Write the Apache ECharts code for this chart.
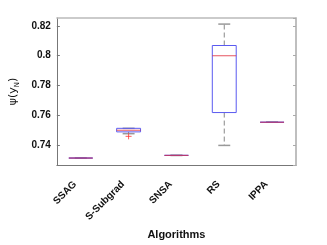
<!DOCTYPE html>
<html><head><meta charset="utf-8">
<script src="https://cdn.jsdelivr.net/npm/echarts@6/dist/echarts.min.js"></script>
<style>html,body{margin:0;padding:0;background:#fff}#c{width:327px;height:245px}</style>
</head><body><div id="c"></div>
<script>
const categories = ['SSAG', 'S-Subgrad', 'SNSA', 'RS', 'IPPA'];
const whiskerLow  = [0.7311, 0.7475, 0.7329, 0.7396, 0.7552];
const q1          = [0.7311, 0.7487, 0.7329, 0.7617, 0.7552];
const median      = [0.7311, 0.7498, 0.7329, 0.7999, 0.7552];
const q3          = [0.7311, 0.7511, 0.7329, 0.8068, 0.7552];
const whiskerHigh = [0.7311, 0.7511, 0.7329, 0.8212, 0.7552];
const outliers = [[1, 0.7457]];
const yTicks = [0.74, 0.76, 0.78, 0.8, 0.82];

const boxData = categories.map((c, i) => [i, whiskerLow[i], q1[i], median[i], q3[i], whiskerHigh[i]]);

function renderBox(params, api) {
  const i = api.value(0);
  const band = api.size([1, 0])[0];
  const bw = band * 0.5, cw = bw * 0.5;
  const x = api.coord([i, 0])[0];
  const yLo = api.coord([i, api.value(1)])[1];
  const yQ1 = api.coord([i, api.value(2)])[1];
  const yMd = api.coord([i, api.value(3)])[1];
  const yQ3 = api.coord([i, api.value(4)])[1];
  const yHi = api.coord([i, api.value(5)])[1];
  const ch = [];
  const dash = {stroke: '#888', lineWidth: 1, lineDash: [5, 3], fill: null};
  if (yHi < yQ3 - 0.5) ch.push({type: 'line', shape: {x1: x, y1: yQ3, x2: x, y2: yHi}, style: dash});
  if (yLo > yQ1 + 0.5) ch.push({type: 'line', shape: {x1: x, y1: yQ1, x2: x, y2: yLo}, style: dash});
  const cap = {stroke: '#999', lineWidth: 1.5};
  ch.push({type: 'line', shape: {x1: x - cw / 2, y1: yHi, x2: x + cw / 2, y2: yHi}, style: cap});
  ch.push({type: 'line', shape: {x1: x - cw / 2, y1: yLo, x2: x + cw / 2, y2: yLo}, style: cap});
  ch.push({type: 'rect', shape: {x: x - bw / 2, y: yQ3, width: bw, height: Math.max(yQ1 - yQ3, 0)},
    style: {stroke: '#5a5af0', lineWidth: 1, fill: 'rgba(0,0,0,0)'}});
  ch.push({type: 'line', shape: {x1: x - bw / 2, y1: yMd, x2: x + bw / 2, y2: yMd},
    style: {stroke: '#e02a3a', lineWidth: 1, opacity: 0.8}});
  return {type: 'group', children: ch};
}

const axisGray = '#777';
const chart = echarts.init(document.getElementById('c'), null, {renderer: 'canvas'});
chart.setOption({
  animation: false,
  grid: {left: 42, right: 31, top: 18, bottom: 60},
  xAxis: [{
    type: 'category', data: categories, position: 'bottom',
    axisLine: {lineStyle: {color: axisGray, width: 1}},
    axisTick: {inside: true, alignWithLabel: true, length: 3, lineStyle: {color: axisGray}},
    axisLabel: {rotate: 45, margin: 12, padding: [0, 8, 0, 0], color: '#111', fontSize: 10, fontWeight: 'bold', fontFamily: 'Liberation Sans, Arial'},
    name: 'Algorithms', nameLocation: 'middle', nameGap: 48,
    nameTextStyle: {color: '#111', fontSize: 11, fontWeight: 'bold', fontFamily: 'Liberation Sans, Arial'},
    splitLine: {show: false}
  }, {
    type: 'category', data: categories, position: 'top',
    axisLine: {lineStyle: {color: '#bbb', width: 1.5}},
    axisTick: {inside: true, alignWithLabel: true, length: 3, lineStyle: {color: '#aaa'}},
    axisLabel: {show: false}, splitLine: {show: false}
  }],
  yAxis: [{
    type: 'value', min: 0.7264, max: 0.8253, splitNumber: 5, position: 'left',
    axisLine: {show: true, lineStyle: {color: axisGray, width: 1}},
    axisTick: {show: true, inside: true, length: 3, lineStyle: {color: axisGray}},
    axisLabel: {showMinLabel: false, showMaxLabel: false, color: '#111', fontSize: 10, fontWeight: 'bold',
      fontFamily: 'Liberation Sans, Arial', margin: 6,
      formatter: v => yTicks.some(t => Math.abs(t - v) < 1e-6) ? String(+v.toFixed(2)) : ''},
    splitLine: {show: false},
    name: '{a|ψ(y}{b|N}{a|)}', nameLocation: 'middle', nameGap: 29, nameRotate: 90,
    nameTextStyle: {rich: {
      a: {fontSize: 11, color: '#111', fontFamily: 'DejaVu Sans, Liberation Sans', lineHeight: 14, verticalAlign: 'middle'},
      b: {fontSize: 7, color: '#111', fontFamily: 'DejaVu Sans, Liberation Sans', lineHeight: 14, verticalAlign: 'bottom', padding: [4, 0, 0, 0]}
    }}
  }, {
    type: 'value', min: 0.7264, max: 0.8253, splitNumber: 5, position: 'right',
    axisLine: {show: true, lineStyle: {color: '#aaa', width: 1.5}},
    axisTick: {show: true, inside: true, length: 3, lineStyle: {color: '#aaa'}},
    axisLabel: {show: false}, splitLine: {show: false}
  }],
  series: [{
    type: 'custom', renderItem: renderBox, data: boxData,
    encode: {x: 0, y: [1, 2, 3, 4, 5]}, xAxisIndex: 0, yAxisIndex: 0, z: 3
  }, {
    type: 'scatter', data: outliers, xAxisIndex: 0, yAxisIndex: 0,
    symbol: 'path://M5,0L5,10M0,5L10,5', symbolSize: 6,
    itemStyle: {color: 'none', borderColor: '#f33', borderWidth: 1}, z: 4
  }]
});
</script></body></html>
